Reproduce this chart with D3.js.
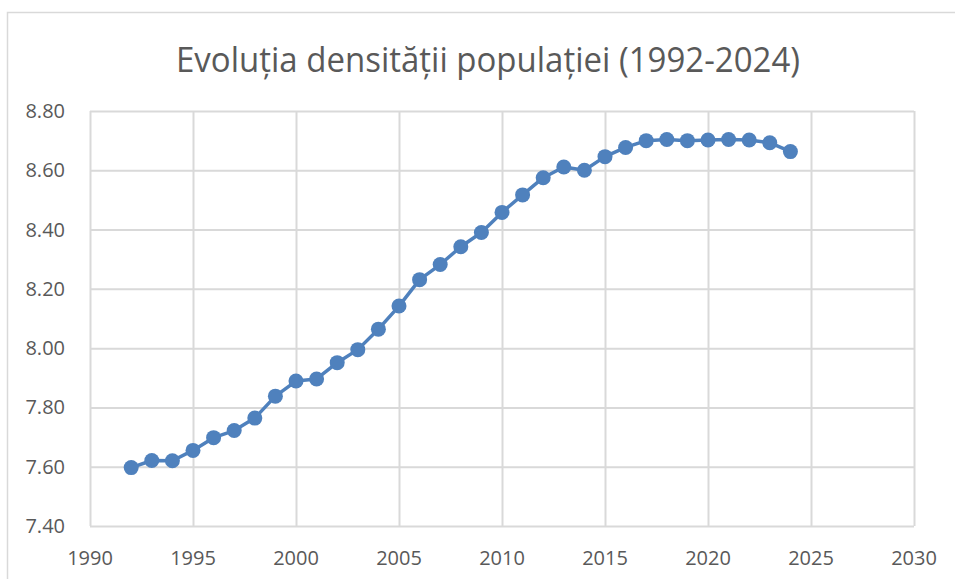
<!DOCTYPE html>
<html>
<head>
<meta charset="utf-8">
<script src="https://cdn.jsdelivr.net/npm/d3@7"></script>
<style>
  body { margin: 0; background: #fff; }
  svg { display: block; font-family: "Open Sans", sans-serif; }
</style>
</head>
<body>
<svg id="chart"></svg>
<script>
const years = [1992, 1993, 1994, 1995, 1996, 1997, 1998, 1999, 2000, 2001, 2002,
  2003, 2004, 2005, 2006, 2007, 2008, 2009, 2010, 2011, 2012, 2013, 2014, 2015,
  2016, 2017, 2018, 2019, 2020, 2021, 2022, 2023, 2024];
const density = [7.597, 7.621, 7.620, 7.655, 7.698, 7.722, 7.764, 7.838, 7.889, 7.896, 7.951,
  7.995, 8.064, 8.142, 8.231, 8.282, 8.342, 8.390, 8.458, 8.517, 8.575, 8.611, 8.600, 8.646,
  8.677, 8.700, 8.704, 8.700, 8.702, 8.704, 8.702, 8.693, 8.663];
const xTicks = [1990, 1995, 2000, 2005, 2010, 2015, 2020, 2025, 2030];
const yTicks = [7.4, 7.6, 7.8, 8.0, 8.2, 8.4, 8.6, 8.8];
const title = "Evoluția densității populației (1992-2024)";

const width = 955, height = 579;
const plotLeft = 90, plotRight = 914, plotTop = 111, plotBottom = 526;
const grey = "#595959", gridColor = "#d9d9d9", blue = "#4f81bd";

const svg = d3.select("#chart").attr("width", width).attr("height", height);

// chart area frame (open on right and bottom, as cropped)
svg.append("path")
    .attr("d", `M7.5,${height + 2}V12.5H${width + 2}`)
    .attr("fill", "none")
    .attr("stroke", gridColor)
    .attr("stroke-width", 1.5);

const x = d3.scaleLinear().domain([1990, 2030]).range([plotLeft, plotRight]);
const y = d3.scaleLinear().domain([7.4, 8.8]).range([plotBottom, plotTop]);

// gridlines
svg.append("g")
    .attr("transform", `translate(0,${plotBottom})`)
    .call(d3.axisBottom(x).tickValues(xTicks).tickSize(-(plotBottom - plotTop)).tickFormat(""))
    .call(g => g.select(".domain").remove())
    .call(g => g.selectAll("line").attr("stroke", gridColor).attr("stroke-width", 2));

svg.append("g")
    .attr("transform", `translate(${plotLeft},0)`)
    .call(d3.axisLeft(y).tickValues(yTicks).tickSize(-(plotRight - plotLeft)).tickFormat(""))
    .call(g => g.select(".domain").remove())
    .call(g => g.selectAll("line").attr("stroke", gridColor).attr("stroke-width", 2));

// tick labels
svg.append("g")
  .selectAll("text")
  .data(yTicks)
  .join("text")
    .attr("x", 65)
    .attr("y", d => y(d))
    .attr("dy", "0.35em")
    .attr("text-anchor", "end")
    .attr("fill", grey)
    .style("font-size", "20px")
    .text(d => d.toFixed(2));

svg.append("g")
  .selectAll("text")
  .data(xTicks)
  .join("text")
    .attr("x", d => x(d))
    .attr("y", 565)
    .attr("text-anchor", "middle")
    .attr("fill", grey)
    .style("font-size", "20px")
    .text(d => d);

// title
svg.append("text")
    .attr("x", 488)
    .attr("y", 72)
    .attr("text-anchor", "middle")
    .attr("fill", grey)
    .attr("textLength", 624)
    .attr("lengthAdjust", "spacingAndGlyphs")
    .style("font-size", "35px")
    .text(title);

// series
const data = years.map((yr, i) => ({year: yr, value: density[i]}));

svg.append("path")
    .datum(data)
    .attr("fill", "none")
    .attr("stroke", blue)
    .attr("stroke-width", 3.5)
    .attr("stroke-linejoin", "round")
    .attr("d", d3.line().x(d => x(d.year)).y(d => y(d.value)));

svg.append("g")
  .selectAll("circle")
  .data(data)
  .join("circle")
    .attr("cx", d => x(d.year))
    .attr("cy", d => y(d.value))
    .attr("r", 7.5)
    .attr("fill", blue);
</script>
</body>
</html>
